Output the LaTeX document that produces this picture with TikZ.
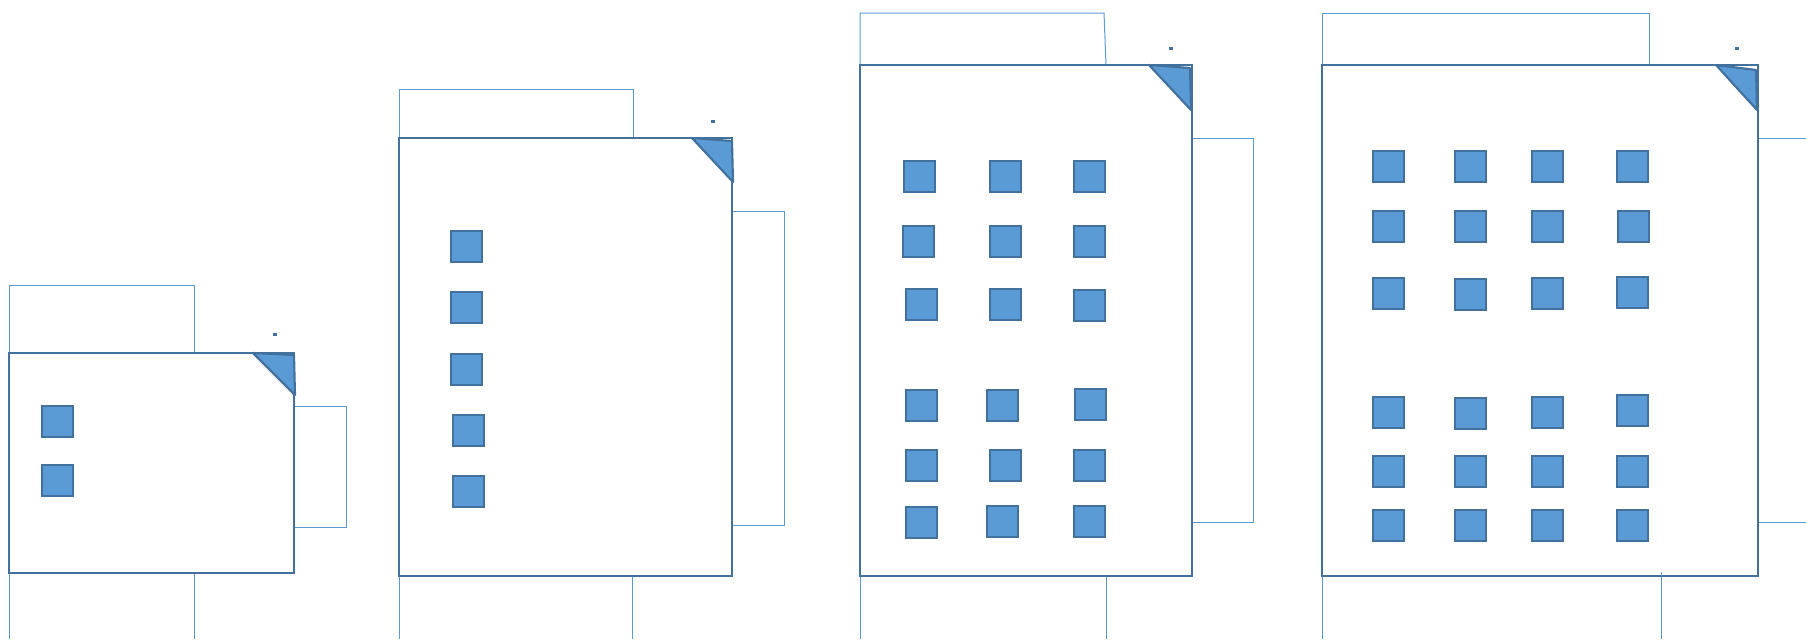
\documentclass[tikz,border=0pt]{standalone}
\definecolor{darkb}{HTML}{41719C}
\definecolor{fillb}{HTML}{5B9BD5}
\definecolor{dimb}{HTML}{5B9BD5}
\tikzset{
  boxline/.style={draw=darkb,line width=1.8pt,fill=white},
  dimline/.style={draw=dimb,line width=0.75pt},
  corner/.style={draw=darkb,fill=fillb,line width=1.6pt,line join=round},
  cell/.style={draw=darkb,fill=fillb,line width=1.6pt},
  dotmark/.style={fill=darkb},
}
\newcommand{\sq}[2]{\draw[cell] (#1,#2) rectangle ++(31,31);}
\begin{document}
\begin{tikzpicture}[x=0.75pt,y=-0.75pt]
\useasboundingbox (0,0) rectangle (1806,639);
% ---------- box 1
\draw[dimline] (9,353) -- (9,285) -- (194,285) -- (194,353);
\draw[dimline] (294,406) -- (346,406) -- (346,527) -- (294,527);
\draw[dimline] (9,573) -- (9,639);
\draw[dimline] (194,573) -- (194,639);
\draw[boxline] (9,353) rectangle (294,573);
\draw[corner] (253,353) -- (294,355) -- (295,395) -- cycle;
\fill[dotmark] (273,333) rectangle ++(4,3);
\sq{42}{406}\sq{42}{465}
% ---------- box 2
\draw[dimline] (399,138) -- (399,89) -- (633,89) -- (633,138);
\draw[dimline] (732,211) -- (784,211) -- (784,525) -- (732,525);
\draw[dimline] (399,576) -- (399,639);
\draw[dimline] (632,576) -- (632,639);
\draw[boxline] (399,138) rectangle (732,576);
\draw[corner] (692,138) -- (732,141) -- (733,182) -- cycle;
\fill[dotmark] (711,120) rectangle ++(4,3);
\sq{451}{231}\sq{451}{292}\sq{451}{354}\sq{453}{415}\sq{453}{476}
% ---------- box 3
\draw[dimline] (860,65) -- (860,13) -- (1104,13) -- (1106,65);
\draw[dimline] (1192,138) -- (1253,138) -- (1253,522) -- (1192,522);
\draw[dimline] (860,576) -- (860,639);
\draw[dimline] (1106,576) -- (1106,639);
\draw[boxline] (860,65) rectangle (1192,576);
\draw[corner] (1149,65) -- (1190,68) -- (1191,110) -- cycle;
\fill[dotmark] (1169,47) rectangle ++(4,3);
\sq{904}{161}\sq{990}{161}\sq{1074}{161}
\sq{903}{226}\sq{990}{226}\sq{1074}{226}
\sq{906}{289}\sq{990}{289}\sq{1074}{290}
\sq{906}{390}\sq{987}{390}\sq{1075}{389}
\sq{906}{450}\sq{990}{450}\sq{1074}{450}
\sq{906}{507}\sq{987}{506}\sq{1074}{506}
% ---------- box 4
\draw[dimline] (1322,65) -- (1322,13) -- (1649,13) -- (1649,65);
\draw[dimline] (1758,138) -- (1806,138);
\draw[dimline] (1758,522) -- (1806,522);
\draw[dimline] (1322,576) -- (1322,639);
\draw[dimline] (1661,572) -- (1661,639);
\draw[boxline] (1322,65) rectangle (1758,576);
\draw[dimline] (1661,572) -- (1661,576);
\draw[corner] (1716,65) -- (1756,70) -- (1757,110) -- cycle;
\fill[dotmark] (1735,47) rectangle ++(4,3);
\sq{1373}{151}\sq{1455}{151}\sq{1532}{151}\sq{1617}{151}
\sq{1373}{211}\sq{1455}{211}\sq{1532}{211}\sq{1618}{211}
\sq{1373}{278}\sq{1455}{279}\sq{1532}{278}\sq{1617}{277}
\sq{1373}{397}\sq{1455}{398}\sq{1532}{397}\sq{1617}{395}
\sq{1373}{456}\sq{1455}{456}\sq{1532}{456}\sq{1617}{456}
\sq{1373}{510}\sq{1455}{510}\sq{1532}{510}\sq{1617}{510}
\end{tikzpicture}
\end{document}
